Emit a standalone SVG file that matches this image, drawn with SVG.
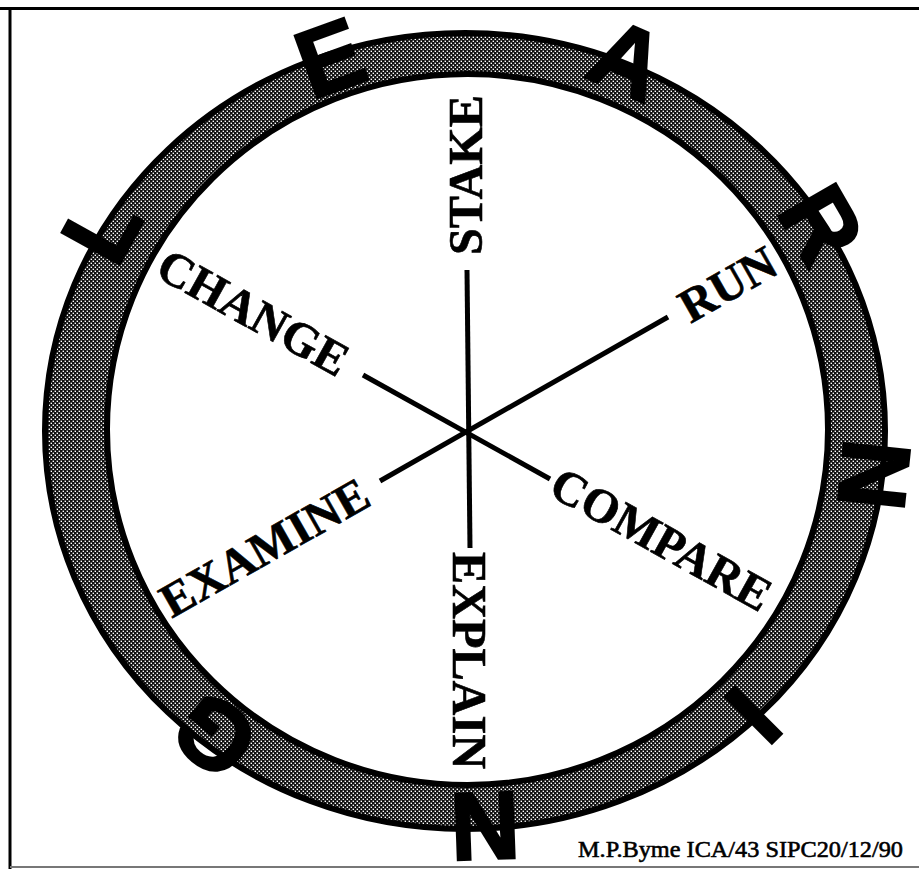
<svg xmlns="http://www.w3.org/2000/svg" width="919" height="869" viewBox="0 0 919 869">
  <style>
    .frame { stroke: #000; stroke-width: 3; fill: none; }
    .edge { fill: none; stroke: #000; stroke-width: 6; }
    .spoke { stroke: #000; stroke-width: 5; stroke-linecap: butt; fill: none; }
    .lbl { font-family: "Liberation Serif", "Times New Roman", serif; font-weight: bold; font-size: 48px; fill: #000; stroke: #000; stroke-width: 0.6; }
    .big { font-family: "Liberation Sans", Arial, sans-serif; font-weight: bold; font-size: 96px; fill: #000; stroke: #000; stroke-width: 2.5; stroke-linejoin: miter; text-anchor: middle; }
    .sig { font-family: "Liberation Serif", "Times New Roman", serif; font-size: 24px; fill: #000; stroke: #000; stroke-width: 0.6; }
  </style>
  <defs>
    <pattern id="halftone" width="4" height="4" patternUnits="userSpaceOnUse">
      <rect width="4" height="4" fill="#111"/>
      <rect x="0.6" y="0.6" width="1.4" height="1.4" fill="#fff"/>
      <rect x="2.6" y="2.6" width="1.4" height="1.4" fill="#fff"/>
    </pattern>
  </defs>
  <rect width="919" height="869" fill="#fff"/>

  <g id="frame">
    <path class="frame" d="M0 8.5 H919"/>
    <path class="frame" d="M10 8 V869"/>
    <path d="M10 867 H919" stroke="#777" stroke-width="2"/>
  </g>

  <g id="ring">
    <path fill="url(#halftone)" fill-rule="evenodd" d="M45 431 A420 398 0 1 0 885 431 A420 398 0 1 0 45 431 Z M107 429.5 A360.5 355.5 0 1 0 828 429.5 A360.5 355.5 0 1 0 107 429.5 Z"/>
    <ellipse class="edge" cx="465" cy="431" rx="420" ry="398"/>
    <ellipse class="edge" cx="467.5" cy="429.5" rx="360.5" ry="355.5"/>
  </g>

  <g id="ring-letters">
    <text class="big" transform="translate(101,228) rotate(-61)" y="34">L</text>
    <text class="big" transform="translate(330,57) rotate(-20)" y="34">E</text>
    <text class="big" transform="translate(628,59) rotate(23.5)" y="34">A</text>
    <text class="big" transform="translate(822,224) rotate(60)" y="34">R</text>
    <text class="big" transform="translate(875,475) rotate(96)" y="34">N</text>
    <text class="big" transform="translate(754,716) rotate(135)" y="34">I</text>
    <text class="big" transform="translate(485,827) rotate(178)" y="34">N</text>
    <text class="big" transform="translate(214,736) rotate(-140)" y="34">G</text>
  </g>

  <g id="connectors">
    <path class="spoke" d="M467 270 L470 548"/>
    <path class="spoke" d="M363 375 L550 479"/>
    <path class="spoke" d="M380 481 L668 317"/>
  </g>

  <g id="node-stake">
    <text class="lbl" style="font-size:49px" transform="translate(482,255) rotate(-90)" textLength="160" lengthAdjust="spacingAndGlyphs">STAKE</text>
  </g>
  <g id="node-run">
    <text class="lbl" transform="translate(690.5,323.9) rotate(-29.6)">RUN</text>
  </g>
  <g id="node-compare">
    <text class="lbl" transform="translate(546.7,494) rotate(29.07)">COMPARE</text>
  </g>
  <g id="node-explain">
    <text class="lbl" style="font-size:49px" transform="translate(453,552) rotate(90)" textLength="217" lengthAdjust="spacingAndGlyphs">EXPLAIN</text>
  </g>
  <g id="node-examine">
    <text class="lbl" transform="translate(171.7,618.8) rotate(-29.6)">EXAMINE</text>
  </g>
  <g id="node-change">
    <text class="lbl" transform="translate(153.4,275.4) rotate(29.07)">CHANGE</text>
  </g>

  <g id="signature">
    <text class="sig" x="578" y="857" textLength="325" lengthAdjust="spacingAndGlyphs">M.P.Byme ICA/43 SIPC20/12/90</text>
  </g>
</svg>
